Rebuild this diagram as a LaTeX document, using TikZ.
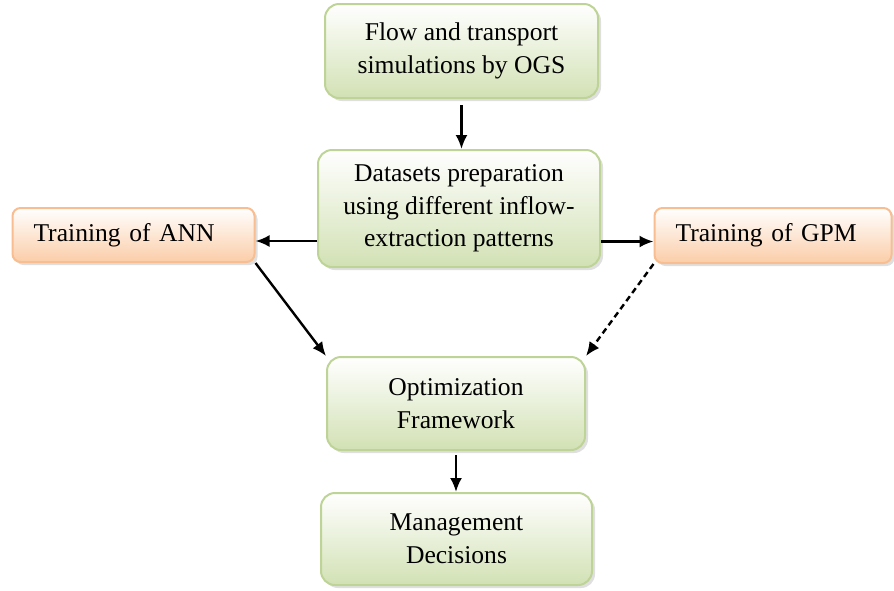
\documentclass[tikz,border=0pt]{standalone}
\usepackage{fontspec}
\setmainfont{Liberation Serif}
\usetikzlibrary{shadows, arrows.meta}
\definecolor{greenline}{RGB}{190,212,150}
\definecolor{greenfill}{RGB}{210,225,180}
\definecolor{orangeline}{RGB}{248,190,145}
\definecolor{orangefill}{RGB}{251,205,168}

\begin{document}
\begin{tikzpicture}[x=0.5pt, y=-0.5pt,
greenbox/.style={draw=greenline, line width=1pt, rounded corners=7pt, top color=white, bottom color=greenfill, align=center, drop shadow={shadow xshift=1.5pt, shadow yshift=-1.5pt, opacity=0.25}},
orangebox/.style={draw=orangeline, line width=1pt, rounded corners=4pt, top color=white, bottom color=orangefill, align=left, inner xsep=10.5pt, drop shadow={shadow xshift=1.5pt, shadow yshift=-1.5pt, opacity=0.25}},
arr/.style={line width=1.2pt, -{Latex[length=7pt, width=6pt]}}]
\useasboundingbox (0,0) rectangle (894,590);
\fontsize{12.8}{16.3}\selectfont
\node [greenbox, minimum width=136.5pt, minimum height=47pt] (flow) at (461.5,51) {Flow and transport\\simulations by OGS};
\node [greenbox, minimum width=141pt, minimum height=58.5pt] (data) at (459,208.5) {Datasets preparation\\using different inflow-\\extraction patterns};
\node [orangebox, text width=100pt, minimum height=27pt] (ann) at (133.5,235) {Training of ANN};
\node [orangebox, text width=97.5pt, minimum height=27.5pt] (gpm) at (773,235.5) {Training of GPM};
\node [greenbox, minimum width=129pt, minimum height=46.5pt] (opt) at (456,403.5) {Optimization\\Framework};
\node [greenbox, minimum width=135.5pt, minimum height=46pt] (mgmt) at (456.5,539) {Management\\Decisions};
\coordinate (annin) at ([yshift=-3pt]ann.east);
\coordinate (gpmin) at ([yshift=-3pt]gpm.west);
\draw [arr, shorten <=3pt] (flow.south) -- (flow.south |- data.north);
\draw [arr] (data.west |- annin) -- (annin);
\draw [arr] (data.east |- gpmin) -- (gpmin);
\draw [arr] (ann.south east) -- (opt.north west);
\draw [arr, dash pattern=on 3pt off 2pt] (gpm.south west) -- (opt.north east);
\draw [arr, shorten <=2pt] (opt.south) -- (opt.south |- mgmt.north);
\end{tikzpicture}
\end{document}
